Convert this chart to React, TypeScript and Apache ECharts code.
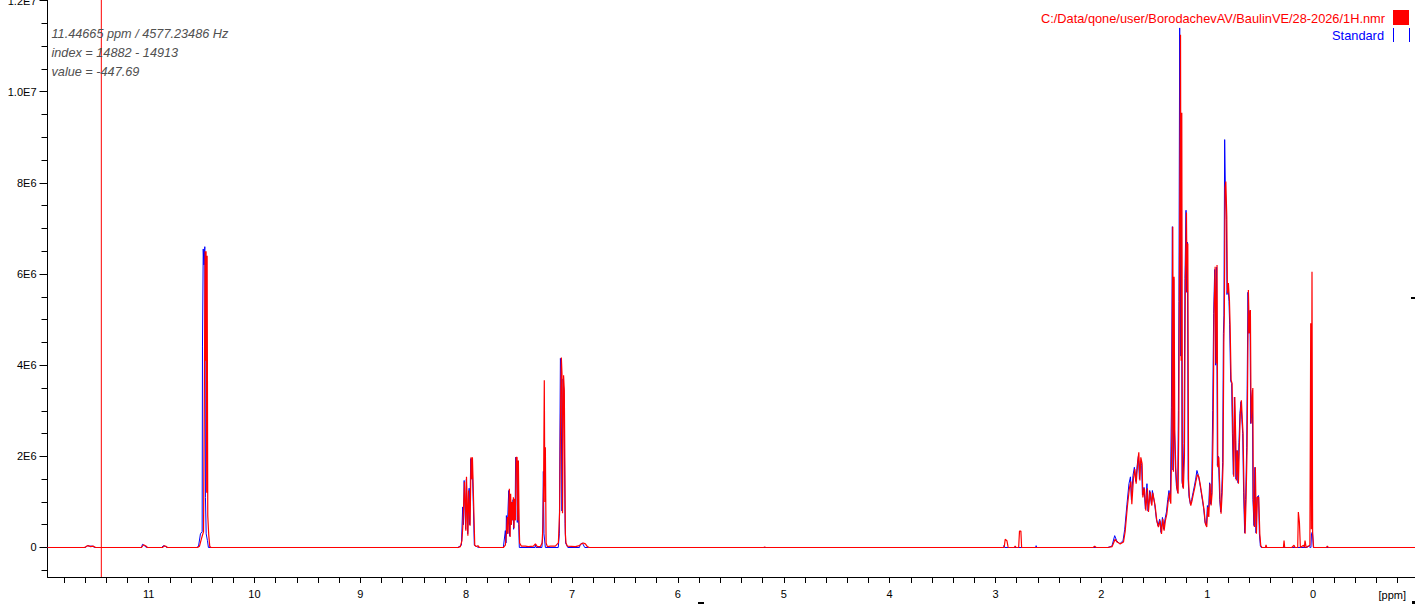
import React, { useEffect, useRef } from "react";
import * as echarts from "echarts";

type P = [number, number];

// ---- axis ticks / labels ----
const xTickValues = [11.8, 11.6, 11.4, 11.2, 11, 10.8, 10.6, 10.4, 10.2, 10, 9.8, 9.6, 9.4, 9.2, 9, 8.8, 8.6, 8.4, 8.2, 8, 7.8, 7.6, 7.4, 7.2, 7, 6.8, 6.6, 6.4, 6.2, 6, 5.8, 5.6, 5.4, 5.2, 5, 4.8, 4.6, 4.4, 4.2, 4, 3.8, 3.6, 3.4, 3.2, 3, 2.8, 2.6, 2.4, 2.2, 2, 1.8, 1.6, 1.4, 1.2, 1, 0.8, 0.6, 0.4, 0.2, 0, -0.2, -0.4, -0.6, -0.8];
const xLabelValues = [11, 10, 9, 8, 7, 6, 5, 4, 3, 2, 1, 0];
const yMajorValues = [0, 2e6, 4e6, 6e6, 8e6, 10e6, 12e6];
const yMajorLabels = ["0", "2E6", "4E6", "6E6", "8E6", "1.0E7", "1.2E7"];
const yMinorValues = [-0.5e6, 0.5e6, 1e6, 1.5e6, 2.5e6, 3e6, 3.5e6, 4.5e6, 5e6, 5.5e6, 6.5e6, 7e6, 7.5e6, 8.5e6, 9e6, 9.5e6, 10.5e6, 11e6, 11.5e6];
const xRange = [-0.963, 11.955];
const yRange = [-0.6473e6, 12.013e6];

const cursorPpm = 11.44665;
const infoLines = ["11.44665 ppm / 4577.23486 Hz", "index = 14882 - 14913", "value = -447.69"];
const sampleName = "C:/Data/qone/user/BorodachevAV/BaulinVE/28-2026/1H.nmr";
const standardName = "Standard";

// ---- spectra: [ppm, intensity in 1E6] ----
const redFar: P[] = [[11.955, 0], [11.605, 0], [11.586, 0.03], [11.567, 0.04], [11.549, 0.02], [11.52, 0.03], [11.501, 0], [11.067, 0], [11.048, 0.06], [11.029, 0.04], [11.01, 0], [10.869, 0], [10.85, 0.04], [10.831, 0.02], [10.822, 0]];
const redAldehyde: P[] = [[10.538, 0], [10.519, 0.03], [10.5, 0.2], [10.481, 0.35], [10.472, 4.0], [10.466, 6.5], [10.461, 4.1], [10.457, 6.5], [10.451, 1.2], [10.447, 6.4], [10.441, 0.7], [10.432, 0.28], [10.422, 0.02], [10.41, 0]];
const redAromatic: P[] = [[8.074, 0], [8.055, 0.02], [8.04, 0.15], [8.031, 0.5], [8.016, 1.44], [8.003, 0.37], [7.997, 1.55], [7.984, 0.26], [7.977, 1.25], [7.963, 0.48], [7.954, 1.98], [7.948, 1.5], [7.941, 1.98], [7.929, 0.92], [7.919, 0.05], [7.904, 0.02], [7.889, 0.04], [7.875, 0],
  [7.649, 0], [7.63, 0.05], [7.62, 0.3], [7.611, 0.67], [7.604, 0.3], [7.592, 1.29], [7.585, 0.23], [7.58, 1.18], [7.573, 0.5], [7.566, 1.0], [7.561, 0.6], [7.554, 1.1], [7.548, 0.42], [7.542, 1.07], [7.535, 0.6], [7.528, 1.98], [7.519, 1.98], [7.513, 0.59], [7.507, 1.91], [7.5, 0.55], [7.495, 0.1], [7.479, 0.03], [7.441, 0.03], [7.413, 0.02], [7.365, 0.03], [7.346, 0.08], [7.328, 0.02], [7.299, 0.02],
  [7.283, 0.1], [7.274, 0.5], [7.268, 1.6], [7.262, 3.67], [7.257, 1.0], [7.252, 2.2], [7.245, 0.1], [7.233, 0.02], [7.205, 0.03], [7.158, 0.03],
  [7.129, 0.1], [7.117, 0.8], [7.108, 3.0], [7.101, 4.17], [7.095, 3.82], [7.09, 0.75], [7.08, 3.78], [7.073, 3.45], [7.063, 0.3], [7.057, 0.1], [7.044, 0.03], [6.969, 0.02], [6.931, 0.04], [6.912, 0.08], [6.893, 0.1], [6.874, 0.08], [6.855, 0.02], [6.837, 0]];
const redMid: P[] = [[5.19, 0], [5.18, 0.01], [5.17, 0], [2.918, 0], [2.908, 0.18], [2.892, 0.15], [2.88, 0], [2.823, 0], [2.814, 0.03], [2.805, 0], [2.781, 0], [2.773, 0.36], [2.76, 0.36], [2.753, 0], [2.077, 0], [2.063, 0.03], [2.049, 0]];
const redAliphatic: P[] = [[1.936, 0], [1.898, 0.02], [1.87, 0.18], [1.851, 0.12], [1.822, 0.08], [1.791, 0.12], [1.775, 0.35], [1.754, 0.9], [1.735, 1.3], [1.721, 1.45], [1.712, 0.95], [1.697, 1.5], [1.684, 1.72], [1.671, 1.4], [1.655, 1.9], [1.646, 2.09], [1.636, 1.47], [1.627, 1.98], [1.615, 1.84], [1.608, 1.1], [1.593, 1.3], [1.58, 0.81], [1.565, 1.3], [1.555, 0.78], [1.539, 1.22], [1.523, 0.92], [1.514, 1.2], [1.492, 0.92], [1.476, 0.59], [1.461, 0.45], [1.445, 0.59], [1.432, 0.3], [1.419, 0.63], [1.407, 0.37], [1.395, 0.59], [1.381, 0.74], [1.369, 1.0], [1.357, 1.2], [1.344, 0.96],
  [1.334, 2.5], [1.325, 7.04], [1.319, 1.66], [1.313, 5.94], [1.306, 2.57], [1.297, 1.76], [1.287, 1.32], [1.275, 1.18], [1.268, 2.8], [1.263, 5.43], [1.256, 9.0], [1.252, 11.25], [1.246, 4.1], [1.24, 9.54], [1.234, 1.4], [1.225, 1.29], [1.215, 2.0], [1.206, 5.94], [1.196, 7.35], [1.19, 5.6], [1.183, 6.67], [1.176, 1.47],
  [1.168, 1.1], [1.155, 0.92], [1.143, 1.03], [1.13, 1.18], [1.117, 1.32], [1.105, 1.47], [1.093, 1.6], [1.079, 1.55], [1.067, 1.4], [1.055, 1.22], [1.042, 1.03], [1.029, 0.81], [1.017, 0.52], [1.004, 0.45], [0.994, 0.89], [0.985, 0.67], [0.973, 1.4], [0.963, 0.92], [0.954, 1.18],
  [0.944, 2.6], [0.935, 5.14], [0.925, 6.16], [0.916, 4.04], [0.907, 6.2], [0.9, 1.76], [0.89, 1.98], [0.878, 1.03], [0.869, 0.74], [0.859, 1.18], [0.85, 1.84], [0.843, 4.5], [0.838, 5.14], [0.831, 7.9], [0.824, 8.03], [0.815, 7.26], [0.809, 5.58], [0.8, 5.8], [0.79, 5.43], [0.784, 4.92], [0.774, 3.67], [0.765, 3.6], [0.758, 2.5], [0.749, 1.55], [0.739, 3.3], [0.73, 2.35], [0.724, 1.47], [0.715, 2.13], [0.705, 1.4], [0.696, 2.28], [0.687, 2.94], [0.677, 3.23], [0.668, 2.79], [0.661, 2.5], [0.652, 1.18], [0.642, 0.3], [0.633, 1.03], [0.623, 2.2],
  [0.611, 5.65], [0.602, 4.7], [0.592, 5.21], [0.585, 2.72], [0.576, 3.23], [0.569, 3.5], [0.564, 1.03], [0.554, 0.45], [0.545, 1.76], [0.535, 0.3], [0.526, 1.1], [0.513, 1.1], [0.503, 0.3], [0.494, 0.04], [0.482, 0], [0.45, 0], [0.444, 0.06], [0.438, 0]];
const redTms: P[] = [[0.3, 0], [0.28, 0], [0.274, 0.15], [0.268, 0], [0.2, 0], [0.18, 0.05], [0.17, 0], [0.145, 0], [0.139, 0.78], [0.129, 0.56], [0.12, 0], [0.09, 0.05], [0.082, 0], [0.076, 0.15], [0.065, 0], [0.03, 0.05], [0.022, 4.92], [0.016, 0.4], [0.01, 6.05], [0.004, 0.3], [-0.005, 0], [-0.125, 0], [-0.135, 0.03], [-0.145, 0], [-0.963, 0]];

const blueFar: P[] = [[11.955, 0], [11.596, 0], [11.577, 0.04], [11.558, 0.03], [11.53, 0.03], [11.511, 0], [11.067, 0], [11.058, 0.07], [11.04, 0.04], [11.02, 0], [10.878, 0], [10.86, 0.04], [10.84, 0.02], [10.831, 0]];
const blueAldehyde: P[] = [[10.548, 0], [10.529, 0.02], [10.51, 0.3], [10.494, 0.35], [10.491, 4.4], [10.484, 6.55], [10.477, 6.2], [10.469, 6.6], [10.463, 1.1], [10.456, 0.3], [10.444, 0.15], [10.435, 0]];
const blueAromatic: P[] = [[8.08, 0], [8.045, 0.05], [8.033, 0.89], [8.026, 0.5], [8.019, 1.47], [8.005, 0.4], [7.998, 1.5], [7.986, 0.3], [7.972, 1.3], [7.967, 0.5], [7.957, 1.95], [7.951, 1.5], [7.944, 1.95], [7.932, 0.9], [7.923, 0.05], [7.885, 0],
  [7.649, 0], [7.63, 0.37], [7.624, 0.1], [7.62, 0.7], [7.613, 0.3], [7.598, 1.25], [7.589, 0.25], [7.583, 1.15], [7.576, 0.5], [7.571, 1.0], [7.564, 0.6], [7.557, 1.05], [7.552, 0.4], [7.545, 1.05], [7.538, 0.6], [7.533, 1.98], [7.523, 1.9], [7.517, 0.55], [7.51, 1.9], [7.504, 0.5], [7.498, 0], [7.35, 0], [7.346, 0.06], [7.34, 0],
  [7.285, 0], [7.278, 0.2], [7.271, 1.67], [7.265, 0.3], [7.252, 0], [7.13, 0], [7.12, 0.3], [7.11, 4.15], [7.104, 3.9], [7.095, 0.8], [7.085, 3.7], [7.076, 3.4], [7.066, 0.53], [7.061, 0.1], [7.04, 0], [6.93, 0], [6.922, 0.07], [6.903, 0.1], [6.88, 0], [6.846, 0]];
const blueMid: P[] = [[2.923, 0], [2.918, 0.05], [2.913, 0], [2.62, 0], [2.616, 0.04], [2.611, 0]];
const blueAliphatic: P[] = [[1.94, 0], [1.9, 0.03], [1.874, 0.26], [1.855, 0.15], [1.826, 0.08], [1.795, 0.15], [1.779, 0.4], [1.758, 0.95], [1.739, 1.4], [1.725, 1.55], [1.716, 1.05], [1.701, 1.58], [1.688, 1.76], [1.675, 1.45], [1.659, 1.85], [1.65, 2.0], [1.64, 1.5], [1.631, 1.9], [1.619, 1.8], [1.612, 1.15], [1.597, 1.32], [1.584, 0.85], [1.569, 1.4], [1.559, 0.8], [1.543, 1.25], [1.527, 0.95], [1.518, 1.25], [1.496, 0.95], [1.48, 0.62], [1.465, 0.48], [1.449, 0.62], [1.436, 0.33], [1.423, 0.66], [1.411, 0.4], [1.399, 0.62], [1.385, 0.78], [1.373, 1.05], [1.361, 1.25], [1.348, 1.0],
  [1.338, 3.08], [1.329, 7.04], [1.323, 1.7], [1.317, 5.9], [1.31, 2.6], [1.301, 1.8], [1.291, 1.35], [1.279, 1.2], [1.272, 3.01], [1.267, 5.4], [1.26, 11.4], [1.25, 4.2], [1.244, 9.5], [1.238, 1.45], [1.229, 1.32], [1.219, 2.28], [1.21, 5.9], [1.2, 7.4], [1.194, 5.6], [1.187, 6.7], [1.18, 1.5],
  [1.172, 1.12], [1.159, 0.95], [1.147, 1.05], [1.134, 1.2], [1.121, 1.35], [1.109, 1.5], [1.097, 1.69], [1.083, 1.58], [1.071, 1.42], [1.059, 1.25], [1.046, 1.05], [1.033, 0.85], [1.021, 0.55], [1.008, 0.48], [0.998, 0.92], [0.989, 0.7], [0.977, 1.42], [0.967, 0.95], [0.958, 1.2],
  [0.948, 3.01], [0.939, 5.14], [0.929, 6.1], [0.92, 4.0], [0.911, 6.15], [0.904, 1.8], [0.894, 2.0], [0.882, 1.05], [0.873, 0.78], [0.863, 1.2], [0.854, 1.86], [0.847, 4.7], [0.842, 5.1], [0.835, 8.95], [0.828, 7.85], [0.819, 7.2], [0.813, 5.55], [0.804, 5.75], [0.794, 5.4], [0.788, 4.9], [0.778, 3.65], [0.769, 3.6], [0.762, 2.5], [0.753, 1.6], [0.743, 3.3], [0.734, 2.35], [0.728, 1.5], [0.719, 2.13], [0.709, 1.42], [0.7, 2.3], [0.691, 2.94], [0.681, 3.2], [0.672, 2.8], [0.665, 2.5], [0.656, 1.2], [0.646, 0.32], [0.637, 1.05], [0.627, 2.2],
  [0.615, 5.6], [0.606, 4.7], [0.596, 5.2], [0.589, 2.72], [0.58, 3.23], [0.573, 3.45], [0.568, 1.05], [0.558, 0.48], [0.549, 1.76], [0.539, 0.32], [0.53, 1.1], [0.515, 1.14], [0.507, 0.3], [0.498, 0.04], [0.49, 0]];
const blueTms: P[] = [[0.3, 0], [0.055, 0], [0.05, 0.03], [0.02, 0], [0.015, 0.3], [0.005, 0.35], [-0.003, 0], [-0.963, 0]];

const redSpectrum = [redFar, redAldehyde, redAromatic, redMid, redAliphatic, redTms];
const blueSpectrum = [blueFar, blueAldehyde, blueAromatic, blueMid, blueAliphatic, blueTms];

const toData = (parts: P[][]) => parts.flat().map(([x, y]) => [x, y * 1e6]);

const FONT = "'Liberation Sans', Arial, sans-serif";

export default function App() {
  const ref = useRef<HTMLDivElement>(null);
  useEffect(() => {
    if (!ref.current) return;
    const chart = echarts.init(ref.current, null, { renderer: "svg" });
    chart.setOption({
      animation: false,
      backgroundColor: "#ffffff",
      grid: { left: 47.5, right: 0, top: 0, bottom: 28, containLabel: false, outerBoundsMode: "none" },
      xAxis: {
        type: "value",
        inverse: true,
        min: xRange[0],
        max: xRange[1],
        splitLine: { show: false },
        axisLine: { show: true, onZero: false, lineStyle: { color: "#000", width: 1 } },
        axisTick: { show: true, length: 6, customValues: xTickValues, lineStyle: { color: "#000" } },
        axisLabel: {
          show: true,
          customValues: xLabelValues,
          formatter: (v: number) => String(Math.round(v)),
          color: "#000",
          fontSize: 11,
          fontFamily: FONT,
          margin: 11,
        },
      },
      yAxis: [
        {
          type: "value",
          position: "left",
          min: yRange[0],
          max: yRange[1],
          splitLine: { show: false },
          axisLine: { show: true, onZero: false, lineStyle: { color: "#000", width: 1 } },
          axisTick: { show: true, length: 8, customValues: yMajorValues, lineStyle: { color: "#000" } },
          axisLabel: {
            show: true,
            customValues: yMajorValues,
            formatter: (v: number) => {
              const i = yMajorValues.findIndex((m) => Math.abs(m - v) < 1);
              return i >= 0 ? yMajorLabels[i] : "";
            },
            color: "#000",
            fontSize: 11,
            fontFamily: FONT,
            margin: 11,
          },
        },
        {
          type: "value",
          position: "left",
          offset: 0,
          min: yRange[0],
          max: yRange[1],
          splitLine: { show: false },
          axisLine: { show: false, onZero: false },
          axisTick: { show: true, length: 6, customValues: yMinorValues, lineStyle: { color: "#000" } },
          axisLabel: { show: false },
        },
      ],
      series: [
        {
          name: standardName,
          type: "line",
          data: toData(blueSpectrum),
          symbol: "none",
          showSymbol: false,
          lineStyle: { color: "#0000ff", width: 1 },
          itemStyle: { color: "#0000ff" },
          silent: true,
          z: 2,
        },
        {
          name: sampleName,
          type: "line",
          data: toData(redSpectrum),
          symbol: "none",
          showSymbol: false,
          lineStyle: { color: "#ff0000", width: 1.2 },
          itemStyle: { color: "#ff0000" },
          silent: true,
          z: 3,
        },
        {
          name: "cursor",
          type: "line",
          data: [[cursorPpm, yRange[0]], [cursorPpm, yRange[1]]],
          symbol: "none",
          showSymbol: false,
          lineStyle: { color: "#ff0000", width: 1 },
          itemStyle: { color: "#ff0000" },
          silent: true,
          z: 4,
        },
      ],
      graphic: [
        ...infoLines.map((t, i) => ({
          type: "text",
          left: 51.5,
          top: 27 + i * 19,
          style: {
            text: t,
            fill: "#505050",
            fontSize: 12.7,
            fontStyle: "italic",
            fontFamily: FONT,
          },
          z: 10,
        })),
        {
          type: "text",
          x: 1385,
          y: 18,
          style: {
            text: sampleName,
            fill: "#ff0000",
            fontSize: 12.8,
            fontFamily: FONT,
            textAlign: "right",
            align: "right",
            textVerticalAlign: "middle",
            verticalAlign: "middle",
          },
          z: 10,
        },
        { type: "rect", shape: { x: 1393, y: 10, width: 16, height: 15 }, style: { fill: "#ff0000" }, z: 10 },
        {
          type: "text",
          x: 1384,
          y: 35,
          style: {
            text: standardName,
            fill: "#0000ff",
            fontSize: 12.8,
            fontFamily: FONT,
            textAlign: "right",
            align: "right",
            textVerticalAlign: "middle",
            verticalAlign: "middle",
          },
          z: 10,
        },
        { type: "line", shape: { x1: 1393.5, y1: 28, x2: 1393.5, y2: 42 }, style: { stroke: "#0000ff", lineWidth: 1 }, z: 10 },
        { type: "line", shape: { x1: 1409.5, y1: 28, x2: 1409.5, y2: 42 }, style: { stroke: "#0000ff", lineWidth: 1 }, z: 10 },
        {
          type: "text",
          x: 1406,
          y: 595,
          style: {
            text: "[ppm]",
            fill: "#000",
            fontSize: 11,
            fontFamily: FONT,
            textAlign: "right",
            align: "right",
            textVerticalAlign: "middle",
            verticalAlign: "middle",
          },
          z: 10,
        },
        { type: "rect", shape: { x: 1411, y: 297, width: 4, height: 2 }, style: { fill: "#000" }, z: 10 },
        { type: "rect", shape: { x: 698, y: 602, width: 6, height: 2 }, style: { fill: "#000" }, z: 10 },
        { type: "rect", shape: { x: 1412, y: 601, width: 3, height: 3 }, style: { fill: "#000" }, z: 10 },
      ],
    });
    return () => chart.dispose();
  }, []);
  return (
    <div
      ref={ref}
      style={{ position: "fixed", left: 0, top: 0, width: 1415, height: 605, background: "#fff" }}
    />
  );
}
